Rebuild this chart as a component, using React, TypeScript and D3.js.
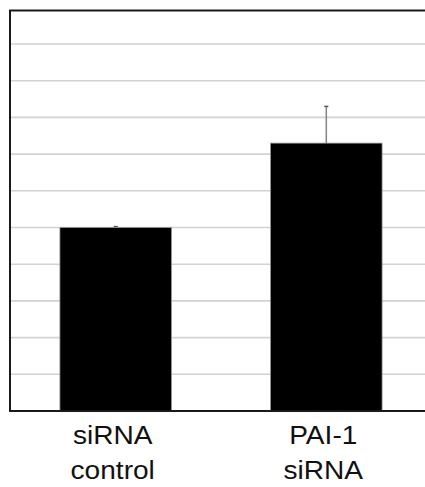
import React from "react";
import * as d3 from "d3";

const categories = ["siRNA control", "PAI-1 siRNA"];
const labelLines = [["siRNA", "control"], ["PAI-1", "siRNA"]];
const values = [1.0, 1.46];
const errors = [0.005, 0.2];
const gridTicks = [0.2, 0.4, 0.6, 0.8, 1.0, 1.2, 1.4, 1.6, 1.8, 2.0];

const W = 425;
const H = 487;

export default function App() {
  const x = d3.scaleBand<string>().domain(categories).range([10, 432]).paddingInner(0.47).paddingOuter(0.237);
  const y = d3.scaleLinear().domain([0, 2.18]).range([411, 11]);
  const font = "'Liberation Sans', Arial, sans-serif";
  return (
    <svg width={W} height={H} style={{ position: "absolute", left: 0, top: 0, background: "#fff" }}>
      <rect x={0} y={0} width={W} height={H} fill="#fff" />
      {gridTicks.map((t) => (
        <line key={t} x1={11} x2={W} y1={y(t)} y2={y(t)} stroke="#d2d2d2" strokeWidth={1.6} />
      ))}
      {categories.map((c, i) => {
        const bx = x(c)!;
        const bw = x.bandwidth();
        const cx = bx + bw / 2;
        return (
          <g key={c}>
            <line x1={cx} x2={cx} y1={y(values[i])} y2={y(values[i] + errors[i])} stroke="#888" strokeWidth={1.6} />
            <line x1={cx - 2} x2={cx + 2} y1={y(values[i] + errors[i])} y2={y(values[i] + errors[i])} stroke="#555" strokeWidth={1.5} />
            <rect x={bx} y={y(values[i])} width={bw} height={y(0) - y(values[i])} fill="#000" stroke="#999" strokeWidth={0.8} />
          </g>
        );
      })}
      <line x1={10} x2={10} y1={10} y2={412} stroke="#1a1a1a" strokeWidth={2} />
      <line x1={9} x2={W} y1={10.5} y2={10.5} stroke="#1a1a1a" strokeWidth={2} />
      <line x1={9} x2={W} y1={411} y2={411} stroke="#1a1a1a" strokeWidth={2} />
      {categories.map((c, i) => {
        const cx = x(c)! + x.bandwidth() / 2 - 3;
        return labelLines[i].map((ln, j) => (
          <text
            key={c + j}
            transform={`translate(${cx},${443.5 + j * 35}) scale(1.06,1)`}
            textAnchor="middle"
            fontFamily={font}
            fontSize={26.5}
            fill="#111"
          >
            {ln}
          </text>
        ));
      })}
    </svg>
  );
}
